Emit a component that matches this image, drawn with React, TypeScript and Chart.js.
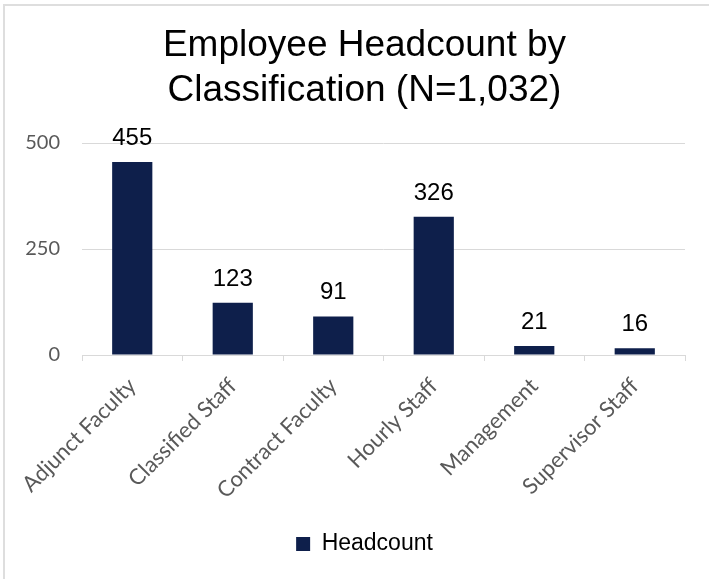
import React, { useEffect, useRef } from "react";
import { Chart, registerables } from "chart.js";

Chart.register(...registerables);

const categories = [
  "Adjunct Faculty",
  "Classified Staff",
  "Contract Faculty",
  "Hourly Staff",
  "Management",
  "Supervisor Staff",
];
const headcount = [455, 123, 91, 326, 21, 16];
const seriesLabel = "Headcount";
const titleLines = ["Employee Headcount by", "Classification (N=1,032)"];
const yMin = 0;
const yMax = 500;
const yStep = 250;

const BAR_COLOR = "#0E1F4B";
const GRID_COLOR = "#D9D9D9";
const TICK_COLOR = "#595959";
const ARIAL = '"Liberation Sans", Arial, sans-serif';
const SOFT = 'Lato, "Open Sans", sans-serif';

const valueLabels = {
  id: "valueLabels",
  afterDatasetsDraw(chart: any) {
    const ctx = chart.ctx;
    const meta = chart.getDatasetMeta(0);
    const data = chart.data.datasets[0].data;
    ctx.save();
    ctx.font = `24px ${ARIAL}`;
    ctx.fillStyle = "#000000";
    ctx.textAlign = "center";
    ctx.textBaseline = "alphabetic";
    meta.data.forEach((bar: any, i: number) => {
      ctx.fillText(String(data[i]), bar.x, bar.y - 17);
    });
    ctx.restore();
  },
};

export default function App() {
  const canvasRef = useRef<HTMLCanvasElement | null>(null);

  useEffect(() => {
    const canvas = canvasRef.current;
    if (!canvas) return;
    const chart = new Chart(canvas, {
      type: "bar",
      data: {
        labels: categories,
        datasets: [
          {
            label: seriesLabel,
            data: headcount,
            backgroundColor: BAR_COLOR,
            borderWidth: 0,
            categoryPercentage: 1,
            barPercentage: 0.4,
            yAxisID: "y",
          },
        ],
      },
      options: {
        responsive: false,
        animation: false,
        devicePixelRatio: 1,
        layout: { padding: { left: 22, right: 2, top: 0, bottom: 13.5 } },
        plugins: {
          title: {
            display: true,
            text: titleLines,
            color: "#000000",
            font: { family: ARIAL, size: 37, weight: "normal", lineHeight: 1.2 },
            padding: { top: 24, bottom: 30.2 },
          },
          legend: {
            display: true,
            position: "bottom",
            labels: {
              boxWidth: 14,
              boxHeight: 14,
              color: "#000000",
              font: { family: ARIAL, size: 23 },
              padding: 10,
            },
          },
          tooltip: { enabled: false },
        },
        scales: {
          x: {
            offset: true,
            grid: {
              display: true,
              drawOnChartArea: false,
              drawTicks: true,
              tickLength: 6,
              offset: true,
              color: GRID_COLOR,
            },
            border: { display: true, color: GRID_COLOR, width: 1 },
            ticks: {
              autoSkip: false,
              minRotation: 45,
              maxRotation: 45,
              padding: 12,
              color: TICK_COLOR,
              font: { family: SOFT, size: 22 },
            },
            afterFit(scale: any) {
              scale.height = 167.5;
            },
          },
          y: {
            position: "left",
            min: yMin,
            max: yMax,
            grid: { color: GRID_COLOR, drawTicks: false, lineWidth: 1 },
            border: { display: false },
            ticks: {
              stepSize: yStep,
              padding: 22,
              color: TICK_COLOR,
              font: { family: SOFT, size: 20 },
            },
            afterFit(scale: any) {
              scale.width = 60;
            },
          },
          gutter: {
            type: "linear",
            position: "right",
            display: true,
            grid: { display: false },
            border: { display: false },
            ticks: { display: false },
            afterFit(scale: any) {
              scale.width = 22;
            },
          },
        },
      },
      plugins: [valueLabels],
    });
    return () => chart.destroy();
  }, []);

  return (
    <div
      style={{
        position: "fixed",
        left: 0,
        top: 0,
        width: 709,
        height: 579,
        background: "#ffffff",
        overflow: "hidden",
      }}
    >
      <div
        style={{
          position: "absolute",
          left: 3,
          top: 4,
          right: 0,
          bottom: 0,
          borderLeft: "2px solid #DEDEDE",
          borderTop: "2px solid #DEDEDE",
        }}
      />
      <canvas
        ref={canvasRef}
        width={709}
        height={579}
        style={{ position: "absolute", left: 0, top: 0, width: 709, height: 579 }}
      />
    </div>
  );
}
